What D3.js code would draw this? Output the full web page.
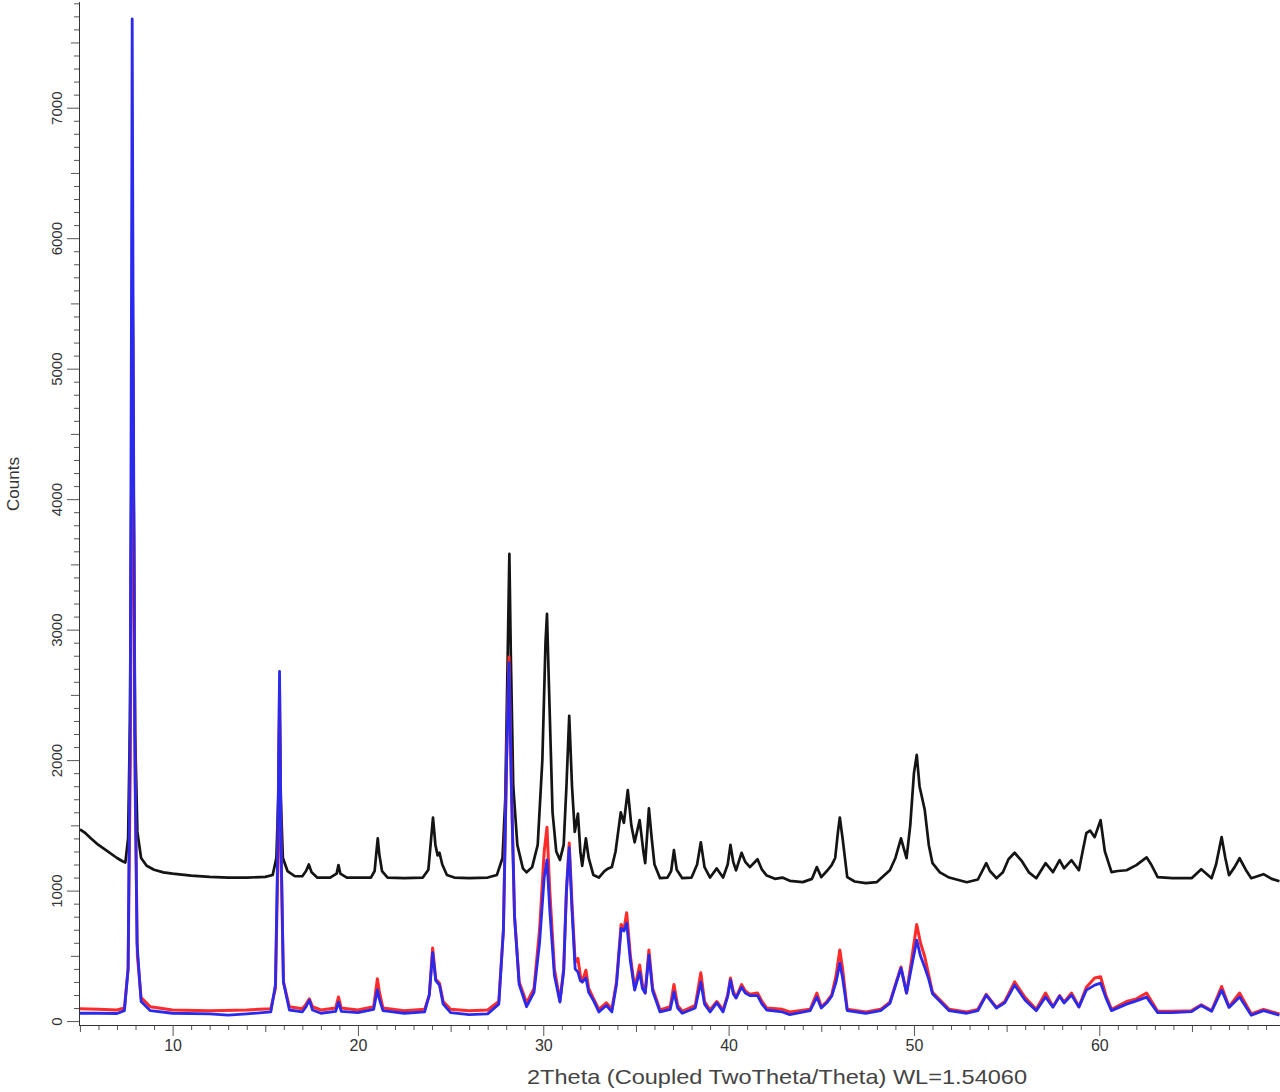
<!DOCTYPE html>
<html>
<head>
<meta charset="utf-8">
<script src="https://cdn.jsdelivr.net/npm/d3@7"></script>
<style>
  body { margin: 0; background: #fff; }
  svg { display: block; font-family: "Liberation Sans", Arial, sans-serif; }
</style>
</head>
<body>
<svg id="chart"></svg>
<script>
// [2theta, counts]
const blackPattern = [
  [5.0,1470],[5.3,1440],[5.6,1400],[6.0,1350],[6.5,1300],[7.0,1250],[7.3,1225],[7.45,1215],
  [7.6,1400],[7.7,2300],[7.78,4200],[7.84,5700],[7.9,4000],[7.98,2200],[8.1,1450],[8.3,1250],
  [8.6,1190],[9.0,1160],[9.5,1140],[10.0,1130],[11.0,1115],[12.0,1105],[13.0,1100],[14.0,1100],
  [15.0,1105],[15.4,1120],[15.6,1250],[15.7,1700],[15.77,2400],[15.84,1700],[15.95,1250],[16.2,1150],
  [16.6,1110],[17.0,1110],[17.2,1150],[17.35,1200],[17.5,1140],[17.8,1100],[18.5,1100],[18.85,1130],
  [18.95,1195],[19.05,1130],[19.4,1100],[20.0,1100],[20.7,1100],[20.9,1150],[21.0,1300],[21.07,1400],
  [21.15,1280],[21.3,1150],[21.6,1100],[22.5,1095],[23.5,1100],[23.8,1160],[23.95,1400],[24.05,1560],
  [24.18,1350],[24.3,1270],[24.4,1290],[24.55,1200],[24.8,1120],[25.2,1100],[26.0,1095],[27.0,1100],
  [27.5,1120],[27.8,1250],[27.95,1700],[28.08,2800],[28.17,3580],[28.25,2800],[28.38,1800],[28.6,1350],
  [28.9,1170],[29.1,1140],[29.4,1180],[29.7,1350],[29.95,2000],[30.12,2900],[30.2,3120],[30.3,2600],
  [30.5,1600],[30.7,1300],[30.9,1235],[31.1,1350],[31.25,1800],[31.4,2340],[31.55,1800],[31.7,1450],
  [31.87,1590],[32.0,1300],[32.1,1190],[32.3,1400],[32.45,1250],[32.7,1120],[33.0,1100],[33.3,1150],
  [33.45,1165],[33.7,1180],[33.9,1300],[34.18,1600],[34.35,1520],[34.56,1770],[34.75,1500],[34.93,1370],
  [35.2,1540],[35.4,1300],[35.5,1210],[35.7,1630],[35.85,1400],[36.0,1200],[36.3,1095],[36.7,1100],
  [36.9,1150],[37.05,1310],[37.2,1160],[37.5,1095],[38.0,1100],[38.3,1200],[38.5,1370],[38.7,1180],
  [39.0,1100],[39.36,1170],[39.7,1100],[39.95,1200],[40.1,1350],[40.25,1220],[40.4,1155],[40.7,1290],
  [40.9,1220],[41.15,1180],[41.56,1240],[41.8,1160],[42.06,1115],[42.5,1090],[42.9,1100],[43.3,1075],
  [44.0,1065],[44.5,1090],[44.76,1180],[45.0,1103],[45.3,1150],[45.56,1195],[45.75,1250],[45.9,1450],
  [46.0,1560],[46.15,1400],[46.4,1103],[46.8,1070],[47.4,1057],[48.0,1065],[48.7,1156],[49.0,1250],
  [49.3,1400],[49.6,1248],[49.8,1500],[50.0,1900],[50.15,2040],[50.3,1800],[50.58,1620],[50.8,1350],
  [51.0,1210],[51.4,1140],[51.9,1100],[52.85,1064],[53.45,1085],[53.9,1210],[54.1,1150],[54.45,1095],
  [54.8,1140],[55.1,1240],[55.43,1290],[55.8,1230],[56.2,1140],[56.6,1095],[57.1,1210],[57.5,1141],
  [57.86,1233],[58.1,1170],[58.5,1233],[58.9,1156],[59.1,1300],[59.3,1440],[59.5,1460],[59.75,1410],
  [60.07,1540],[60.3,1300],[60.66,1141],[61.0,1150],[61.47,1156],[62.0,1195],[62.55,1255],[62.8,1200],
  [63.15,1103],[63.95,1095],[64.98,1095],[65.5,1164],[66.06,1095],[66.3,1200],[66.6,1410],[66.8,1250],
  [67.0,1118],[67.3,1180],[67.57,1248],[67.9,1160],[68.2,1095],[68.86,1126],[69.3,1090],[69.72,1072]
];

const redPattern = [
  [5.0,95],[6.0,90],[7.0,85],[7.4,100],[7.6,400],[7.72,2000],[7.8,4500],[7.84,5350],[7.9,3800],
  [7.98,1800],[8.1,500],[8.3,180],[8.8,110],[10,85],[12,80],[14,85],[15.3,95],[15.55,250],
  [15.68,1200],[15.77,2550],[15.85,1300],[15.98,300],[16.3,110],[17.0,95],[17.2,130],[17.38,170],
  [17.55,110],[18.0,85],[18.8,100],[18.95,185],[19.1,100],[20.0,85],[20.85,110],[20.98,250],
  [21.05,325],[21.15,230],[21.35,100],[22.5,80],[23.6,90],[23.85,200],[24.03,560],[24.2,320],
  [24.4,290],[24.6,150],[25.0,90],[26.0,80],[27.0,85],[27.6,150],[27.85,700],[28.02,2000],
  [28.15,2790],[28.28,1800],[28.45,800],[28.7,300],[29.1,140],[29.5,250],[29.8,700],[30.05,1300],
  [30.2,1485],[30.35,1000],[30.6,400],[30.9,155],[31.1,400],[31.25,1000],[31.4,1365],[31.55,900],
  [31.72,450],[31.87,480],[32.0,350],[32.1,300],[32.3,390],[32.45,250],[32.7,175],[33.0,90],
  [33.4,140],[33.7,90],[33.95,300],[34.2,740],[34.35,700],[34.5,830],[34.7,500],[34.93,250],
  [35.2,430],[35.35,280],[35.5,215],[35.7,545],[35.9,250],[36.3,85],[36.85,110],[37.05,280],
  [37.25,120],[37.5,75],[38.2,120],[38.5,370],[38.7,150],[39.0,85],[39.36,150],[39.7,85],
  [39.95,200],[40.1,330],[40.25,230],[40.4,180],[40.7,280],[40.9,230],[41.15,205],[41.56,215],
  [41.8,150],[42.06,100],[42.9,90],[43.3,70],[44.4,90],[44.76,215],[45.0,110],[45.3,150],
  [45.56,200],[45.8,350],[46.0,545],[46.15,400],[46.4,90],[47.4,70],[48.2,90],[48.7,145],
  [49.3,415],[49.6,215],[49.85,450],[50.15,740],[50.35,600],[50.58,495],[50.8,350],[51.0,220],
  [51.9,90],[52.85,70],[53.45,90],[53.9,205],[54.45,105],[54.9,150],[55.43,300],[56.0,180],
  [56.6,90],[57.1,215],[57.5,110],[57.86,195],[58.1,145],[58.5,215],[58.9,110],[59.3,260],
  [59.75,330],[60.07,340],[60.35,200],[60.66,90],[61.47,150],[62.0,170],[62.55,215],[63.15,75],
  [63.95,75],[64.98,80],[65.5,125],[66.06,80],[66.6,265],[67.0,110],[67.57,215],[68.2,55],
  [68.86,90],[69.72,55]
];

const bluePattern = [
  [5.0,60],[6.0,60],[7.0,58],[7.4,80],[7.6,400],[7.72,2500],[7.8,6500],[7.82,7680],[7.88,5000],
  [7.96,2200],[8.08,600],[8.3,150],[8.8,80],[10,60],[12,55],[13,45],[14,55],[15.3,70],[15.55,280],
  [15.68,1400],[15.77,2680],[15.85,1400],[15.98,300],[16.3,85],[17.0,70],[17.2,110],[17.38,160],
  [17.55,85],[18.0,60],[18.8,75],[18.95,145],[19.1,75],[20.0,65],[20.85,90],[20.98,190],
  [21.05,240],[21.15,170],[21.35,80],[22.5,60],[23.6,70],[23.85,200],[24.03,525],[24.2,310],
  [24.4,276],[24.6,130],[25.0,65],[26.0,50],[27.0,55],[27.6,130],[27.85,700],[28.02,2000],
  [28.15,2745],[28.28,1800],[28.45,800],[28.7,280],[29.1,110],[29.5,220],[29.8,600],[30.05,1100],
  [30.2,1235],[30.35,850],[30.6,350],[30.9,145],[31.1,380],[31.25,1000],[31.4,1330],[31.55,850],
  [31.72,400],[31.87,375],[32.0,310],[32.1,300],[32.3,330],[32.45,220],[32.7,160],[33.0,70],
  [33.4,120],[33.7,70],[33.95,280],[34.2,710],[34.35,690],[34.5,750],[34.7,460],[34.93,237],
  [35.2,375],[35.35,250],[35.5,214],[35.7,505],[35.9,230],[36.3,70],[36.85,90],[37.05,222],
  [37.25,100],[37.5,60],[38.2,100],[38.5,300],[38.7,130],[39.0,70],[39.36,140],[39.7,70],
  [39.95,190],[40.1,314],[40.25,210],[40.4,176],[40.7,260],[40.9,215],[41.15,195],[41.56,195],
  [41.8,130],[42.06,85],[42.9,70],[43.3,50],[44.4,80],[44.76,184],[45.0,100],[45.3,140],
  [45.56,190],[45.8,300],[46.0,444],[46.15,330],[46.4,80],[47.4,60],[48.2,80],[48.7,135],
  [49.3,406],[49.6,214],[49.85,400],[50.15,620],[50.35,500],[50.58,413],[50.8,320],[51.0,210],
  [51.9,80],[52.85,60],[53.45,80],[53.9,199],[54.45,100],[54.9,140],[55.43,276],[56.0,160],
  [56.6,80],[57.1,184],[57.5,107],[57.86,191],[58.1,138],[58.5,199],[58.9,107],[59.3,237],
  [59.75,276],[60.07,291],[60.35,180],[60.66,80],[61.47,130],[62.0,155],[62.55,184],[63.15,65],
  [63.95,65],[64.98,72],[65.5,120],[66.06,75],[66.6,237],[67.0,105],[67.57,184],[68.2,45],
  [68.86,80],[69.72,45]
];

const xMajorTicks = [10, 20, 30, 40, 50, 60];
const yMajorTicks = [0, 1000, 2000, 3000, 4000, 5000, 6000, 7000];
const xTitle = "2Theta (Coupled TwoTheta/Theta) WL=1.54060";
const yTitle = "Counts";

const width = 1280, height = 1092;
const plotLeft = 79, plotRight = 1280, plotTop = 2, plotBottom = 1025;

const svg = d3.select("#chart").attr("width", width).attr("height", height);
svg.append("rect").attr("width", width).attr("height", height).attr("fill", "#fff");

const x = d3.scaleLinear().domain([4.95, 69.75]).range([plotLeft, plotRight]);
const y = d3.scaleLinear().domain([-30, 7810]).range([plotBottom, plotTop]);

svg.append("clipPath").attr("id", "plot")
  .append("rect").attr("x", plotLeft).attr("y", 0)
  .attr("width", plotRight - plotLeft).attr("height", plotBottom);

const line = d3.line().x(d => x(d[0])).y(d => y(d[1]));

const series = [
  { data: blackPattern, color: "#141414", w: 2.7 },
  { data: redPattern, color: "#ff2a2a", w: 3 },
  { data: bluePattern, color: "#2a2aee", w: 2.8 }
];

svg.append("g").attr("clip-path", "url(#plot)")
  .selectAll("path").data(series).join("path")
  .attr("d", d => line(d.data))
  .attr("fill", "none")
  .attr("stroke", d => d.color)
  .attr("stroke-width", d => d.w)
  .attr("stroke-linejoin", "round");

// y axis: minor / medium / major ticks
const yMinor = d3.range(0, 7801, 100).filter(v => v % 500 !== 0);
const yMid = d3.range(500, 7801, 1000);

svg.append("g").attr("transform", `translate(${plotLeft},0)`)
  .call(d3.axisLeft(y).tickValues(yMinor).tickSize(5).tickSizeOuter(0).tickFormat(""));
svg.append("g").attr("transform", `translate(${plotLeft},0)`)
  .call(d3.axisLeft(y).tickValues(yMid).tickSize(8).tickSizeOuter(0).tickFormat(""));
const yAxis = svg.append("g").attr("transform", `translate(${plotLeft},0)`)
  .call(d3.axisLeft(y).tickValues(yMajorTicks).tickSize(12).tickSizeOuter(0).tickFormat(d3.format("d")));

yAxis.selectAll("text")
  .attr("x", 0).attr("dy", 0).attr("y", -17)
  .attr("transform", "rotate(-90)")
  .attr("text-anchor", "middle");

// x axis
const xMinor = d3.range(5, 71, 1).filter(v => v % 5 !== 0);
const xMid = d3.range(5, 71, 10);

svg.append("g").attr("transform", `translate(0,${plotBottom})`)
  .call(d3.axisBottom(x).tickValues(xMinor).tickSize(5).tickSizeOuter(0).tickFormat(""));
svg.append("g").attr("transform", `translate(0,${plotBottom})`)
  .call(d3.axisBottom(x).tickValues(xMid).tickSize(7).tickSizeOuter(0).tickFormat(""));
const xAxis = svg.append("g").attr("transform", `translate(0,${plotBottom})`)
  .call(d3.axisBottom(x).tickValues(xMajorTicks).tickSize(11).tickSizeOuter(0).tickPadding(4));

svg.selectAll(".domain").attr("stroke", "#333");
svg.selectAll(".tick line").attr("stroke", "#555");
svg.selectAll(".tick text").attr("fill", "#333");
yAxis.selectAll("text").style("font-size", "15px");
xAxis.selectAll("text").style("font-size", "16px");

svg.append("text")
  .attr("x", 777).attr("y", 1084)
  .attr("text-anchor", "middle")
  .attr("fill", "#444")
  .attr("textLength", 500)
  .attr("lengthAdjust", "spacingAndGlyphs")
  .style("font-size", "21px")
  .text(xTitle);

svg.append("text")
  .attr("transform", "translate(19,484) rotate(-90)")
  .attr("text-anchor", "middle")
  .attr("fill", "#333")
  .style("font-size", "17px")
  .text(yTitle);
</script>
</body>
</html>
